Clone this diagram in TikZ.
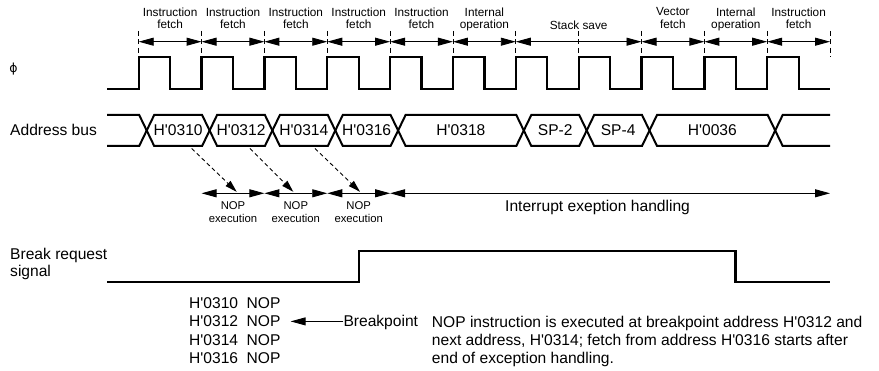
\documentclass[tikz,border=0pt]{standalone}
\usepackage{fontspec}
\setmainfont{Liberation Sans}
\newfontfamily\phifont{DejaVu Sans}
\usetikzlibrary{arrows.meta}
\newcommand\hq{\textquotesingle}
\begin{document}
\begin{tikzpicture}[x=1pt,y=-1pt,
  wave/.style={line width=2.3pt, line join=miter},
  busline/.style={line width=2pt, line join=miter},
  dimarr/.style={line width=0.9pt, {Triangle[length=15pt,width=8pt]}-{Triangle[length=15pt,width=8pt]}},
  tickline/.style={line width=0.8pt, dash pattern=on 5pt off 3.5pt},
  dasharr/.style={line width=0.9pt, dash pattern=on 4pt off 3pt, -{Triangle[length=12pt,width=7pt]}},
  onearr/.style={line width=0.9pt, -{Triangle[length=15pt,width=8pt]}},
  toplbl/.style={font=\fontsize{11.8}{12.3}\selectfont, align=center, inner sep=0pt, anchor=north},
  noplbl/.style={font=\fontsize{11.3}{12.7}\selectfont, align=center, inner sep=0pt, anchor=north},
  txt/.style={font=\fontsize{15.6}{18.3}\selectfont, inner sep=0pt},
  val/.style={font=\fontsize{15.6}{18.3}\selectfont, inner sep=0pt},
]
\useasboundingbox (0,0) rectangle (879,371);

% cycle boundaries
\foreach \i in {0,...,11} {
  \coordinate (b\i) at ({138.7+62.85*\i},41.7);
  \draw[tickline] ({138.7+62.85*\i},31) -- ({138.7+62.85*\i},57);
}

% top cycle arrows
\draw[dimarr] (b0) -- (b1);
\draw[dimarr] (b1) -- (b2);
\draw[dimarr] (b2) -- (b3);
\draw[dimarr] (b3) -- (b4);
\draw[dimarr] (b4) -- (b5);
\draw[dimarr] (b5) -- (b6);
\draw[dimarr] (b6) -- (b8);
\draw[dimarr] (b8) -- (b9);
\draw[dimarr] (b9) -- (b10);
\draw[dimarr] (b10) -- (b11);

\node[toplbl] (t0) at (170.1,7.5) {Instruction\\fetch};
\node[toplbl] (t1) at (233.0,7.5) {Instruction\\fetch};
\node[toplbl] (t2) at (295.8,7.5) {Instruction\\fetch};
\node[toplbl] (t3) at (358.7,7.5) {Instruction\\fetch};
\node[toplbl] (t4) at (421.5,7.5) {Instruction\\fetch};
\node[toplbl] (t5) at (484.4,7.5) {Internal\\operation};
\node[toplbl, anchor=base] (t6) at (578.65,30) {Stack save};
\node[toplbl] (t7) at (672.9,7.5) {Vector\\fetch};
\node[toplbl] (t8) at (735.8,7.5) {Internal\\operation};
\node[toplbl] (t9) at (798.6,7.5) {Instruction\\fetch};

% clock
\node[inner sep=0pt] (phi) at (13.5,69.5) {\phifont\fontsize{12.5}{12.5}\selectfont ϕ};
\draw[wave] (107,89) \foreach \i in {0,...,10} {
  -- ({138.7+62.85*\i},89) -- ({138.7+62.85*\i},57)
  -- ({170.2+62.85*\i},57) -- ({170.2+62.85*\i},89) } -- (830,89);

% address bus
\node[txt, anchor=base west] (abus) at (10,136) {Address bus};
\draw[busline] (107,115) -- (139.2,115) -- (146.7,130.5) -- (139.2,146) -- (107,146);
\foreach \a/\b in {146.7/209.6, 209.6/272.4, 272.4/335.3, 335.3/398.1,
                   398.1/523.8, 523.8/586.7, 586.7/649.5, 649.5/775.2}
  \draw[busline] (\a,130.5) -- ({\a+7.5},115) -- ({\b-7.5},115) -- (\b,130.5)
                 -- ({\b-7.5},146) -- ({\a+7.5},146) -- cycle;
\draw[busline] (830,115) -- (782.7,115) -- (775.2,130.5) -- (782.7,146) -- (830,146);

\node[val] (v0) at (178.15,130.5) {H\hq0310};
\node[val] (v1) at (241.0,130.5) {H\hq0312};
\node[val] (v2) at (303.85,130.5) {H\hq0314};
\node[val] (v3) at (366.7,130.5) {H\hq0316};
\node[val] (v4) at (460.95,130.5) {H\hq0318};
\node[val] (v5) at (555.25,130.5) {SP-2};
\node[val] (v6) at (618.1,130.5) {SP-4};
\node[val] (v7) at (712.35,130.5) {H\hq0036};

% execution row
\coordinate (n1) at (201.55,193.3);
\coordinate (n2) at (264.4,193.3);
\coordinate (n3) at (327.25,193.3);
\coordinate (n4) at (390.1,193.3);
\coordinate (n5) at (830,193.3);
\draw[dimarr] (n1) -- (n2);
\draw[dimarr] (n2) -- (n3);
\draw[dimarr] (n3) -- (n4);
\draw[dimarr] (n4) -- (n5);

\coordinate (s0) at (191.7,148.5);
\coordinate (s1) at (250.0,148.5);
\coordinate (s2) at (315.0,148.5);
\coordinate (e0) at (236.7,191.8);
\coordinate (e1) at (293.3,191.8);
\coordinate (e2) at (360.0,191.8);
\draw[dasharr] (s0) -- (e0);
\draw[dasharr] (s1) -- (e1);
\draw[dasharr] (s2) -- (e2);

\node[noplbl] (x0) at (233.0,201.7) {NOP\\execution};
\node[noplbl] (x1) at (295.8,201.7) {NOP\\execution};
\node[noplbl] (x2) at (358.7,201.7) {NOP\\execution};
\node[txt, anchor=base west] (intr) at (505,212) {Interrupt exeption handling};

% break request signal
\node[txt, align=left, anchor=north west, font=\fontsize{15.6}{17.4}\selectfont] (brk) at (10,248) {Break request\\signal};
\draw[wave] (107,281.7) -- (359,281.7) -- (359,251) -- (735.5,251) -- (735.5,281.7) -- (829.5,281.7);

% listing
\node[txt, anchor=base west] (l1) at (189,308.6) {H\hq0310\hspace{8.5pt}NOP};
\node[txt, anchor=base west] (l2) at (189,326.9) {H\hq0312\hspace{8.5pt}NOP};
\node[txt, anchor=base west] (l3) at (189,345.2) {H\hq0314\hspace{8.5pt}NOP};
\node[txt, anchor=base west] (l4) at (189,363.5) {H\hq0316\hspace{8.5pt}NOP};
\node[txt, anchor=base west] (bp) at (343.3,326.9) {Breakpoint};
\coordinate (bpa) at ([yshift=5.5pt]bp.base west);
\draw[onearr, shorten >=10pt] (bpa) -- (bpa -| l2.east);

\node[txt, align=left, anchor=north west] (note) at (431.7,315.7)
  {NOP instruction is executed at breakpoint address H\hq0312 and\\
   next address, H\hq0314; fetch from address H\hq0316 starts after\\
   end of exception handling.};
\end{tikzpicture}
\end{document}
